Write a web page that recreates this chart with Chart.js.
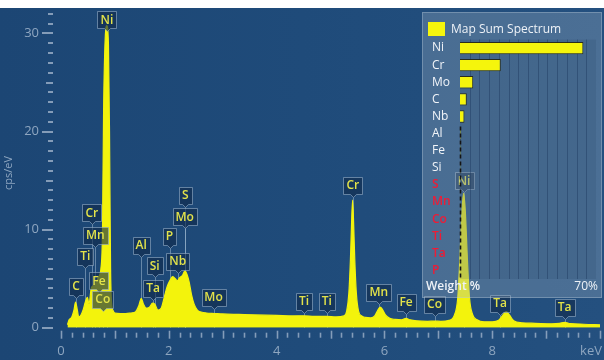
<!DOCTYPE html>
<html>
<head>
<meta charset="utf-8">
<script src="https://cdn.jsdelivr.net/npm/chart.js@4.4.1/dist/chart.umd.min.js"></script>
<style>
  html, body { margin: 0; padding: 0; background: #ffffff; width: 604px; height: 360px; overflow: hidden; }
  #wrap { position: absolute; left: 0; top: 8px; width: 604px; height: 352px;
          background: linear-gradient(90deg, #1c4674 0%, #1f4b7a 50%, #24507f 100%); }
  #spec { position: absolute; left: 0; top: 0; }
  #quant { position: absolute; left: 422px; top: 4px; }
</style>
</head>
<body>
<div id="wrap">
  <canvas id="spec" width="604" height="352"></canvas>
  <canvas id="quant" width="180" height="286"></canvas>
</div>
<script>
// ---- Spectrum (energy in keV, intensity in cps/eV) ----
const spectrumEnergy = [
  0.12, 0.15, 0.20, 0.24, 0.27, 0.30, 0.33, 0.37, 0.41, 0.45, 0.49, 0.52, 0.56, 0.60, 0.65, 0.70, 0.74, 0.77,
  0.79, 0.82, 0.85, 0.88, 0.90, 0.92, 0.94, 0.97, 1.00, 1.10, 1.20, 1.30, 1.38, 1.44, 1.49, 1.53, 1.58, 1.64,
  1.70, 1.74, 1.80, 1.86, 1.92, 1.97, 2.02, 2.07, 2.12, 2.16, 2.20, 2.25, 2.30, 2.34, 2.38, 2.42, 2.47, 2.53,
  2.60, 2.70, 2.85, 3.00, 3.30, 3.60, 4.00, 4.30, 4.51, 4.70, 4.93, 5.10, 5.25, 5.30, 5.34, 5.37, 5.39, 5.41,
  5.43, 5.45, 5.48, 5.52, 5.58, 5.65, 5.75, 5.82, 5.87, 5.92, 5.96, 6.02, 6.10, 6.20, 6.32, 6.40, 6.48, 6.60,
  6.80, 6.93, 7.05, 7.20, 7.30, 7.36, 7.40, 7.44, 7.47, 7.50, 7.54, 7.58, 7.64, 7.72, 7.85, 8.00, 8.12, 8.20,
  8.26, 8.32, 8.40, 8.55, 8.80, 9.10, 9.25, 9.34, 9.45, 9.70, 10.00
];
const spectrumCounts = [
  0.3, 0.8, 1.1, 1.8, 2.6, 1.9, 1.1, 1.3, 1.8, 2.6, 3.1, 2.4, 4.0, 4.3, 4.6, 5.2, 6.0, 10.0,
  22.0, 29.5, 30.8, 29.0, 20.0, 6.0, 2.5, 1.7, 1.5, 1.45, 1.45, 1.5, 1.6, 2.2, 3.0, 2.4, 2.0, 2.1,
  2.5, 2.4, 1.8, 2.0, 3.2, 4.2, 4.8, 5.2, 5.0, 4.8, 5.1, 5.3, 5.8, 5.4, 4.6, 3.4, 2.4, 1.8,
  1.6, 1.5, 1.45, 1.4, 1.35, 1.3, 1.25, 1.2, 1.22, 1.15, 1.15, 1.1, 1.2, 1.7, 3.5, 7.0, 10.5, 13.0,
  10.5, 7.0, 3.5, 1.7, 1.2, 1.05, 1.0, 1.2, 1.7, 2.1, 1.9, 1.3, 0.95, 0.85, 0.8, 0.95, 0.8, 0.7,
  0.65, 0.68, 0.65, 0.75, 1.3, 3.0, 7.0, 12.0, 13.7, 12.0, 7.0, 3.0, 1.3, 0.8, 0.6, 0.6, 0.75, 1.3,
  1.65, 1.3, 0.7, 0.5, 0.45, 0.4, 0.45, 0.55, 0.42, 0.35, 0.3
];

// ---- Identified lines ----
const markerSymbols  = ['C', 'Ti', 'Cr', 'Mn', 'Fe', 'Co', 'Ni', 'Al', 'Si', 'Ta', 'P', 'Nb', 'Mo', 'S',
                        'Mo', 'Ti', 'Ti', 'Cr', 'Mn', 'Fe', 'Co', 'Ni', 'Ta', 'Ta'];
const markerEnergies = [0.277, 0.452, 0.573, 0.637, 0.705, 0.776, 0.851, 1.486, 1.739, 1.710, 2.013, 2.166, 2.293, 2.307,
                        2.830, 4.510, 4.931, 5.414, 5.898, 6.403, 6.930, 7.477, 8.146, 9.343];
// label heights (cps/eV) for the callout boxes
const markerLevels   = [4.2, 7.3, 11.7, 9.4, 4.8, 2.9, 31.4, 8.4, 6.3, 4.0, 9.3, 6.8, 11.3, 13.5,
                        3.1, 2.7, 2.7, 14.5, 3.6, 2.6, 2.4, 15.0, 2.5, 2.1];

// ---- Quantification ----
const quantElements = ['Ni', 'Cr', 'Mo', 'C', 'Nb', 'Al', 'Fe', 'Si', 'S', 'Mn', 'Co', 'Ti', 'Ta', 'P'];
const quantWeight   = [63.5, 21.0, 6.8, 3.5, 2.3, 0.4, 0.3, 0.25, 0, 0, 0, 0, 0, 0];

// ---- x / y axis tick marks ----
const xLabelValues = [0, 2, 4, 6, 8];
const yLabelValues = [0, 10, 20, 30];

const AXIS_COLOR = 'rgba(150,172,196,0.85)';
const AXIS_TEXT = '#8ea6c0';
const FONT = '"Open Sans", "Noto Sans", sans-serif';

const axesPlugin = {
  id: 'specAxes',
  afterDraw(chart) {
    const { ctx, scales: { x, y }, chartArea } = chart;
    ctx.save();
    // energy ticks every 0.2 keV, longer every 1 keV
    ctx.strokeStyle = AXIS_COLOR;
    ctx.lineWidth = 1.6;
    for (let k = 0; k <= 50; k++) {
      const px = Math.round(x.getPixelForValue(k * 0.2)) + 0.5;
      const major = k % 5 === 0;
      const y0 = chartArea.bottom + (major ? 3 : 5);
      const y1 = chartArea.bottom + (major ? 11 : 10);
      ctx.beginPath(); ctx.moveTo(px, y0); ctx.lineTo(px, y1); ctx.stroke();
    }
    ctx.fillStyle = AXIS_TEXT;
    ctx.font = '13px ' + FONT;
    ctx.textAlign = 'center';
    ctx.textBaseline = 'middle';
    xLabelValues.forEach(v => ctx.fillText(String(v), x.getPixelForValue(v), chartArea.bottom + 24));
    ctx.textAlign = 'right';
    ctx.fillText('keV', 602, chartArea.bottom + 24);

    // intensity ticks every 1 cps/eV
    ctx.lineWidth = 2;
    for (let v = 0; v <= 32; v++) {
      const py = Math.round(y.getPixelForValue(v));
      const len = v % 10 === 0 ? 11 : (v % 5 === 0 ? 7 : 5);
      ctx.beginPath(); ctx.moveTo(53 - len, py); ctx.lineTo(53, py); ctx.stroke();
    }
    ctx.textAlign = 'right';
    yLabelValues.forEach(v => ctx.fillText(String(v), 39, y.getPixelForValue(v)));

    ctx.translate(9, 165);
    ctx.rotate(-Math.PI / 2);
    ctx.textAlign = 'center';
    ctx.font = '11px ' + FONT;
    ctx.fillText('cps/eV', 0, 0);
    ctx.restore();
  }
};

function markerBox(ctx, chart, i) {
  const { x, y } = chart.scales;
  ctx.font = '600 12px ' + FONT;
  const w = Math.round(ctx.measureText(markerSymbols[i]).width) + 6;
  const h = 17;
  const cx = x.getPixelForValue(markerEnergies[i]);
  const cy = y.getPixelForValue(markerLevels[i]);
  return { cx, cy, w, h, left: Math.round(cx - w / 2) + 0.5, top: Math.round(cy - h / 2) + 0.5 };
}

const markersPlugin = {
  id: 'lineMarkers',
  beforeDatasetsDraw(chart) {
    const { ctx, chartArea } = chart;
    ctx.save();
    ctx.strokeStyle = 'rgba(160,185,210,0.55)';
    ctx.lineWidth = 1;
    markerSymbols.forEach((s, i) => {
      const b = markerBox(ctx, chart, i);
      const px = Math.round(b.cx) + 0.5;
      ctx.beginPath(); ctx.moveTo(px, b.top + b.h + 3); ctx.lineTo(px, chartArea.bottom); ctx.stroke();
    });
    ctx.restore();
  },
  afterDatasetsDraw(chart) {
    const { ctx } = chart;
    ctx.save();
    markerSymbols.forEach((s, i) => {
      const b = markerBox(ctx, chart, i);
      const l = b.left, t = b.top, r = b.left + b.w, btm = b.top + b.h, m = Math.round(b.cx) + 0.5;
      ctx.beginPath();
      ctx.moveTo(l, t); ctx.lineTo(r, t); ctx.lineTo(r, btm);
      ctx.lineTo(m + 3, btm); ctx.lineTo(m, btm + 3); ctx.lineTo(m - 3, btm);
      ctx.lineTo(l, btm); ctx.closePath();
      ctx.fillStyle = 'rgba(16,42,74,0.62)';
      ctx.fill();
      ctx.strokeStyle = 'rgba(150,175,200,0.6)';
      ctx.lineWidth = 1;
      ctx.stroke();
      ctx.fillStyle = '#e2e24a';
      ctx.textAlign = 'center';
      ctx.textBaseline = 'middle';
      ctx.fillText(s, b.cx, b.cy + 0.5);
    });
    ctx.restore();
  }
};

new Chart(document.getElementById('spec'), {
  type: 'line',
  data: {
    datasets: [{
      data: spectrumEnergy.map((e, i) => ({ x: e, y: spectrumCounts[i] })),
      borderColor: '#f3f30c',
      backgroundColor: '#f3f30c',
      borderWidth: 1.2,
      fill: 'origin',
      pointRadius: 0,
      cubicInterpolationMode: 'monotone'
    }]
  },
  options: {
    responsive: false,
    animation: false,
    events: [],
    layout: { padding: { left: 61, right: 4, top: 0, bottom: 32.3 } },
    plugins: { legend: { display: false }, tooltip: { enabled: false } },
    scales: {
      x: { type: 'linear', min: 0, max: 10, display: false },
      y: { min: 0, max: 32.6, display: false }
    }
  },
  plugins: [axesPlugin, markersPlugin]
});

// ---- Weight % panel ----
const panelPlugin = {
  id: 'quantPanel',
  beforeDraw(chart) {
    const { ctx, width, height, chartArea, scales: { x } } = chart;
    ctx.save();
    ctx.fillStyle = 'rgba(160,176,196,0.32)';
    ctx.fillRect(0, 0, width, height);
    ctx.strokeStyle = 'rgba(190,205,222,0.35)';
    ctx.lineWidth = 1;
    ctx.strokeRect(0.5, 0.5, width - 1, height - 1);
    // bar area with 5 % grid
    ctx.fillStyle = 'rgba(25,50,85,0.12)';
    ctx.fillRect(chartArea.left, chartArea.top, chartArea.right - chartArea.left, chartArea.bottom - chartArea.top);
    ctx.strokeStyle = 'rgba(30,58,95,0.45)';
    for (let v = 5; v < 70; v += 5) {
      const px = Math.round(x.getPixelForValue(v)) + 0.5;
      ctx.beginPath(); ctx.moveTo(px, chartArea.top); ctx.lineTo(px, chartArea.bottom); ctx.stroke();
    }
    // legend header
    ctx.fillStyle = '#f5f50c';
    ctx.fillRect(6, 10, 17, 14);
    ctx.fillStyle = '#eef2f7';
    ctx.font = '12px ' + FONT;
    ctx.textBaseline = 'middle';
    ctx.textAlign = 'left';
    ctx.fillText('Map Sum Spectrum', 29, 17.5);
    ctx.restore();
  },
  afterDatasetsDraw(chart) {
    const { ctx, chartArea, scales: { x, y } } = chart;
    ctx.save();
    ctx.textBaseline = 'middle';
    ctx.textAlign = 'left';
    quantElements.forEach((el, i) => {
      const found = quantWeight[i] > 0;
      ctx.font = (found ? '' : '600 ') + '12px ' + FONT;
      ctx.fillStyle = found ? '#f2f5f9' : '#ee1c36';
      ctx.fillText(el, 10, y.getPixelForValue(i));
    });
    // zero line for trace elements
    const zx = Math.round(x.getPixelForValue(0)) + 0.5;
    ctx.strokeStyle = '#141414';
    ctx.lineWidth = 1.6;
    ctx.setLineDash([4, 3]);
    ctx.beginPath();
    ctx.moveTo(zx, y.getPixelForValue(5) - 7);
    ctx.lineTo(zx, y.getPixelForValue(13) + 8);
    ctx.stroke();
    ctx.setLineDash([]);
    ctx.fillStyle = '#eef2f7';
    ctx.font = '600 12px ' + FONT;
    ctx.fillText('Weight %', 4, chartArea.bottom + 8);
    ctx.textAlign = 'right';
    ctx.font = '12px ' + FONT;
    ctx.fillText('70%', 176, chartArea.bottom + 8);
    ctx.restore();
  }
};

new Chart(document.getElementById('quant'), {
  type: 'bar',
  data: {
    labels: quantElements,
    datasets: [{
      data: quantWeight,
      backgroundColor: '#f5f50c',
      borderColor: 'rgba(40,40,15,0.9)',
      borderWidth: 1,
      barPercentage: 0.72,
      categoryPercentage: 1
    }]
  },
  options: {
    indexAxis: 'y',
    responsive: false,
    animation: false,
    events: [],
    layout: { padding: { left: 38, right: 6, top: 27.5, bottom: 19 } },
    plugins: { legend: { display: false }, tooltip: { enabled: false } },
    scales: {
      x: { type: 'linear', min: 0, max: 70, display: false },
      y: { type: 'category', display: false }
    }
  },
  plugins: [panelPlugin]
});
</script>
</body>
</html>
